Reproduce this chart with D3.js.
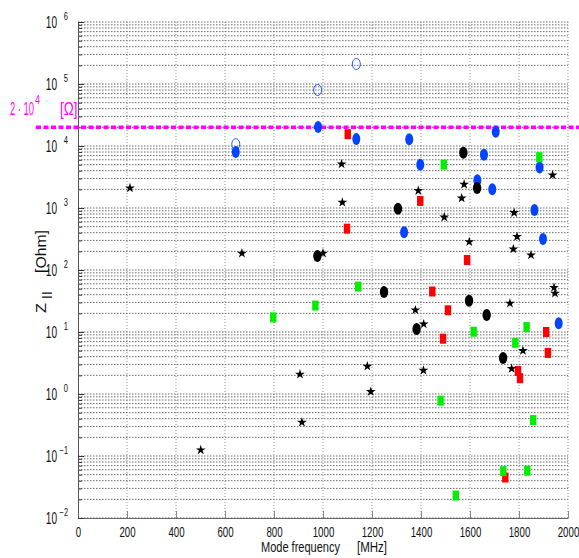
<!DOCTYPE html>
<meta charset="utf-8">
<title>Mode impedance</title>
<script src="https://d3js.org/d3.v7.min.js"></script>
<style>
  body { margin: 0; background: #fff; }
  svg text { font-family: "Liberation Sans", Arial, sans-serif; }
</style>
<div id="chart"></div>
<script>

  // data: [frequency MHz, Z Ohm]
  var blueOpen = [[644, 1.07e4], [978, 8.0e4], [1136, 2.1e5]];
  var blueFilled = [[644, 8.0e3], [980, 2.03e4], [1136, 1.3e4], [1352, 1.29e4], [1397, 5.0e3],
    [1657, 7.2e3], [1705, 1.7e4], [1884, 4.5e3], [1630, 2.8e3], [1691, 2.0e3], [1863, 930],
    [1331, 405], [1898, 315], [1962, 13.8]];
  var blackDots = [[1306, 975], [977, 168], [1249, 44], [1382, 11.2], [1573, 7.8e3],
    [1629, 2.1e3], [1596, 32], [1668, 18.8], [1735, 3.8]];
  var redSquares = [[1101, 1.55e4], [1098, 464], [1397, 1.3e3], [1588, 145], [1446, 45],
    [1510, 22.4], [1490, 7.8], [1911, 10], [1918, 4.6], [1796, 2.35], [1804, 1.8], [1744, 0.045]];
  var greenSquares = [[1493, 5.0e3], [1883, 6.6e3], [1144, 54], [969, 26.7], [797, 17.2],
    [1615, 10.1], [1831, 12], [1785, 6.7], [1480, 0.78], [1858, 0.38], [1736, 0.057],
    [1834, 0.058], [1542, 0.023]];
  var stars = [[212, 2.1e3], [501, 0.125], [669, 186], [906, 2.08], [914, 0.35], [1000, 186],
    [1076, 5.1e3], [1079, 1.23e3], [1181, 2.8], [1195, 1.09], [1377, 22.6], [1389, 1.9e3],
    [1410, 2.4], [1411, 13.4], [1495, 710], [1566, 1.44e3], [1576, 2.4e3], [1597, 285],
    [1763, 29], [1770, 2.56], [1777, 218], [1780, 840], [1792, 345], [1816, 5.0], [1849, 174],
    [1937, 3.4e3], [1943, 52], [1947, 42]];

  var xTicks = [0, 200, 400, 600, 800, 1000, 1200, 1400, 1600, 1800, 2000];
  var yExponents = [-2, -1, 0, 1, 2, 3, 4, 5, 6];
  var limitValue = 2e4;

  var width = 579, height = 558;
  var margin = { top: 22, right: 11, bottom: 40, left: 78 };

  var svg = d3.select("#chart").append("svg")
    .attr("width", width)
    .attr("height", height);

  var x = d3.scaleLinear().domain([0, 2000]).range([margin.left, width - margin.right]);
  var y = d3.scaleLog().domain([1e-2, 1e6]).range([height - margin.bottom, margin.top]);

  // all the minor log values 2..9 x 10^k
  var minors = [];
  yExponents.slice(0, -1).forEach(function (e) {
    for (var m = 2; m <= 9; m++) minors.push(m * Math.pow(10, e));
  });
  var majors = yExponents.map(function (e) { return Math.pow(10, e); });

  // the font of the picture is narrow, squeeze the glyphs
  function squeeze(sel, perChar) {
    sel.attr("textLength", function () { return this.textContent.length * perChar; })
      .attr("lengthAdjust", "spacingAndGlyphs");
  }

  // grid
  var grid = svg.append("g");
  grid.selectAll(".hgrid")
    .data(minors.concat(majors))
    .enter().append("line")
    .attr("x1", x(0)).attr("x2", x(2000))
    .attr("y1", function (d) { return y(d); })
    .attr("y2", function (d) { return y(d); })
    .attr("stroke", "#444")
    .attr("stroke-width", 0.8)
    .attr("stroke-dasharray", "1.5,1.5");

  grid.selectAll(".vgrid")
    .data(xTicks.slice(1))
    .enter().append("line")
    .attr("x1", function (d) { return x(d); })
    .attr("x2", function (d) { return x(d); })
    .attr("y1", y(1e6)).attr("y2", y(1e-2))
    .attr("stroke", "#777")
    .attr("stroke-width", 0.8)
    .attr("stroke-dasharray", "1,2");

  // x axis, ticks pointing inward
  var xAxis = svg.append("g")
    .attr("transform", "translate(0," + y(1e-2) + ")")
    .call(d3.axisBottom(x).tickValues(xTicks).tickSize(-7).tickPadding(9)
      .tickSizeOuter(0).tickFormat(d3.format("d")));
  xAxis.select(".domain").attr("stroke", "#666");
  xAxis.selectAll(".tick line").attr("stroke", "#888");
  xAxis.selectAll("text").attr("font-size", 14).attr("fill", "#111").call(squeeze, 5.4);

  // y axis with minor ticks
  var yMinor = svg.append("g")
    .attr("transform", "translate(" + x(0) + ",0)")
    .call(d3.axisLeft(y).tickValues(minors).tickSize(-4).tickFormat(""));
  yMinor.select(".domain").remove();
  yMinor.selectAll(".tick line").attr("stroke", "#333");

  var yAxis = svg.append("g")
    .attr("transform", "translate(" + x(0) + ",0)")
    .call(d3.axisLeft(y).tickValues(majors).tickSize(-6).tickSizeOuter(0).tickFormat(""));
  yAxis.select(".domain").attr("stroke", "#555");
  yAxis.selectAll(".tick line").attr("stroke", "#333");

  // "10" with the exponent as a raised label
  yAxis.selectAll(".tick").append("text")
    .attr("x", -21).attr("y", 5.5)
    .attr("fill", "#111").attr("font-size", 16)
    .text("10").call(squeeze, 5.6);
  yAxis.selectAll(".tick").append("text")
    .attr("x", -10).attr("y", -3)
    .attr("fill", "#111").attr("font-size", 10)
    .text(function (d) { return String(Math.round(Math.log10(d))).replace("-", "\u2212"); })
    .call(squeeze, 4.2);

  // limit line
  svg.append("line")
    .attr("x1", 36).attr("x2", width)
    .attr("y1", y(limitValue)).attr("y2", y(limitValue))
    .attr("stroke", "#ff00ff")
    .attr("stroke-width", 3.5)
    .attr("stroke-dasharray", "5,2.5");

  var lim = svg.append("g").attr("fill", "#ff00ff").attr("font-size", 18);
  lim.append("text").attr("x", 10).attr("y", 115).attr("xml:space", "preserve")
    .text("2 \u00b7 10").attr("textLength", 24).attr("lengthAdjust", "spacingAndGlyphs");
  lim.append("text").attr("x", 35).attr("y", 104).attr("font-size", 12).text("4").call(squeeze, 5);
  lim.append("text").attr("x", 60).attr("y", 115).text("[\u03a9]").call(squeeze, 5.8);

  // markers
  var marks = svg.append("g");

  marks.selectAll(".bo").data(blueOpen).enter().append("ellipse")
    .attr("cx", function (d) { return x(d[0]); })
    .attr("cy", function (d) { return y(d[1]); })
    .attr("rx", 4).attr("ry", 5.5)
    .attr("fill", "none").attr("stroke", "#2a55ff").attr("stroke-width", 1);

  marks.selectAll(".bf").data(blueFilled).enter().append("ellipse")
    .attr("cx", function (d) { return x(d[0]); })
    .attr("cy", function (d) { return y(d[1]); })
    .attr("rx", 4).attr("ry", 6)
    .attr("fill", "#0044ff");

  marks.selectAll(".kd").data(blackDots).enter().append("ellipse")
    .attr("cx", function (d) { return x(d[0]); })
    .attr("cy", function (d) { return y(d[1]); })
    .attr("rx", 4.2).attr("ry", 6)
    .attr("fill", "#000");

  marks.selectAll(".rs").data(redSquares).enter().append("rect")
    .attr("x", function (d) { return x(d[0]) - 3.2; })
    .attr("y", function (d) { return y(d[1]) - 5; })
    .attr("width", 6.4).attr("height", 10)
    .attr("fill", "#ff0000");

  marks.selectAll(".gs").data(greenSquares).enter().append("rect")
    .attr("x", function (d) { return x(d[0]) - 3.2; })
    .attr("y", function (d) { return y(d[1]) - 5; })
    .attr("width", 6.4).attr("height", 10)
    .attr("fill", "#00ee00");

  var star = d3.symbol().type(d3.symbolStar).size(30);
  marks.selectAll(".st").data(stars).enter().append("path")
    .attr("d", star)
    .attr("transform", function (d) { return "translate(" + x(d[0]) + "," + y(d[1]) + ")"; })
    .attr("fill", "#000");

  // axis titles
  svg.append("text")
    .attr("x", 261).attr("y", 552)
    .attr("font-size", 14).attr("fill", "#111")
    .text("Mode frequency")
    .attr("textLength", 79).attr("lengthAdjust", "spacingAndGlyphs");
  svg.append("text")
    .attr("x", 357).attr("y", 552)
    .attr("font-size", 14).attr("fill", "#111")
    .text("[MHz]")
    .attr("textLength", 30).attr("lengthAdjust", "spacingAndGlyphs");

  var yt = svg.append("g")
    .attr("transform", "translate(46,313) rotate(-90)")
    .attr("font-size", 15).attr("fill", "#111");
  yt.append("text").attr("x", 0).text("Z")
    .attr("textLength", 10).attr("lengthAdjust", "spacingAndGlyphs");
  yt.append("text").attr("x", 14).attr("y", 4).attr("font-size", 10).text("||")
    .attr("textLength", 8).attr("lengthAdjust", "spacingAndGlyphs");
  yt.append("text").attr("x", 40).text("[Ohm]")
    .attr("textLength", 43).attr("lengthAdjust", "spacingAndGlyphs");

</script>
